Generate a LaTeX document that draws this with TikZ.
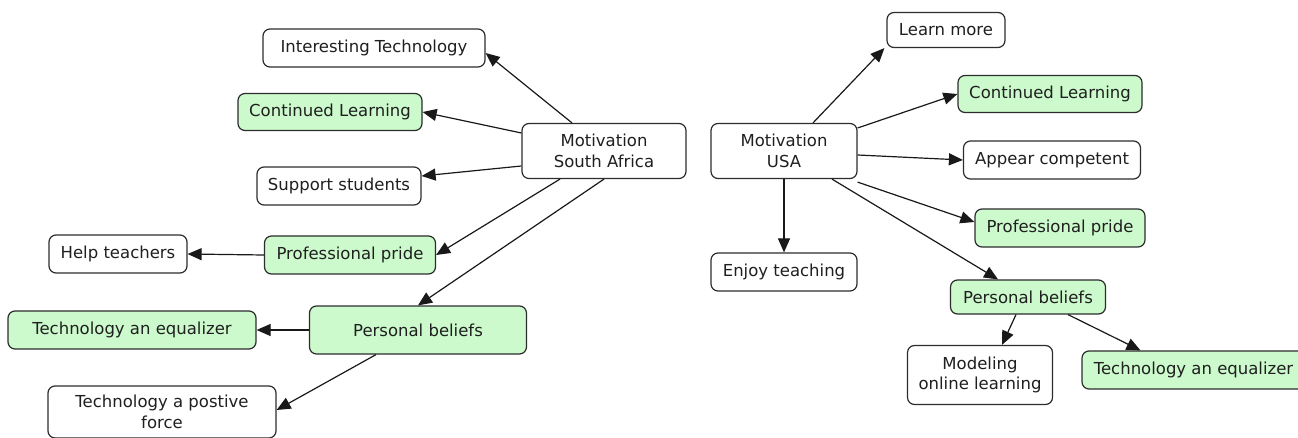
\documentclass[tikz,border=0pt]{standalone}
\usepackage{fontspec}
\setmainfont{DejaVu Sans}
\usetikzlibrary{arrows.meta}
\definecolor{conceptgreen}{RGB}{204,250,204}
\definecolor{boxline}{RGB}{45,45,45}
\begin{document}
\begin{tikzpicture}[x=1pt,y=-1pt,
  box/.style={draw=boxline, line width=1.2pt, rounded corners=7pt, fill=white,
    text=black!88, align=center, inner sep=0pt,
    font=\fontsize{16.5}{20.5}\selectfont},
  hl/.style={box, fill=conceptgreen},
  link/.style={draw=black!90, line width=1.2pt, -{Triangle[length=14pt,width=12pt]}}]
\useasboundingbox (0,0) rectangle (1298,438);
\clip (0,0) rectangle (1298,438);
\fill[white] (0,0) rectangle (1298,438);

% South Africa map
\node[box, minimum width=164pt, minimum height=55pt] (sa) at (604,151) {Motivation\\South Africa};
\node[box, minimum width=222pt, minimum height=38pt] (it) at (374,48) {Interesting Technology};
\node[hl,  minimum width=184pt, minimum height=37pt] (cl) at (330,112) {Continued Learning};
\node[box, minimum width=164pt, minimum height=38pt] (ss) at (339,186) {Support students};
\node[box, minimum width=138pt, minimum height=38pt] (ht) at (118,254) {Help teachers};
\node[hl,  minimum width=171pt, minimum height=38pt] (pp) at (350,255) {Professional pride};
\node[hl,  minimum width=248pt, minimum height=38pt] (te) at (132,330) {Technology an equalizer};
\node[hl,  minimum width=217pt, minimum height=48pt] (pb) at (418,330) {Personal beliefs};
\node[box, minimum width=228pt, minimum height=52pt] (tpf) at (162,412) {Technology a postive\\force};

\draw[link] ([xshift=-32pt]sa.north) -- ([yshift=-5pt]it.east);
\draw[link] ([yshift=18pt]sa.west) -- (cl.east);
\draw[link] ([yshift=-15pt]sa.west) -- ([yshift=10pt]ss.east);
\draw[link] ([xshift=-44pt]sa.south) -- (pp.east);
\draw[link] (sa.south) -- (pb.north);
\draw[link] (pp.west) -- (ht.east);
\draw[link] (pb.west) -- (te.east);
\draw[link] ([xshift=-42pt]pb.south) -- ([yshift=2pt]tpf.east);

% USA map
\node[box, minimum width=146pt, minimum height=55pt] (usa) at (784,151) {Motivation\\USA};
\node[box, minimum width=118pt, minimum height=35pt] (lm) at (946,30) {Learn more};
\node[hl,  minimum width=184pt, minimum height=37pt] (cl2) at (1050,94) {Continued Learning};
\node[box, minimum width=177pt, minimum height=38pt] (ac) at (1052,160) {Appear competent};
\node[hl,  minimum width=170pt, minimum height=38pt] (pp2) at (1060,228) {Professional pride};
\node[box, minimum width=146pt, minimum height=38pt] (et) at (784,272) {Enjoy teaching};
\node[hl,  minimum width=155pt, minimum height=34pt] (pb2) at (1028,297) {Personal beliefs};
\node[box, minimum width=145pt, minimum height=59pt] (mol) at (980,375) {Modeling\\online learning};
\node[hl,  minimum width=223pt, minimum height=38pt] (te2) at (1193.5,370) {Technology an equalizer};

\draw[link] ([xshift=29pt]usa.north) -- ([xshift=-2pt]lm.south west);
\draw[link] ([yshift=23pt]usa.east) -- (cl2.west);
\draw[link] ([yshift=-4pt]usa.east) -- (ac.west);
\draw[link] ([yshift=-3pt]usa.south east) -- ([yshift=6pt]pp2.west);
\draw[link] ([xshift=48pt]usa.south) -- ([xshift=-30pt]pb2.north);
\draw[link] (usa.south) -- (et.north);
\draw[link] ([xshift=-12pt]pb2.south) -- ([xshift=22pt]mol.north);
\draw[link] ([xshift=40pt]pb2.south) -- ([xshift=-53pt]te2.north);
\end{tikzpicture}
\end{document}
